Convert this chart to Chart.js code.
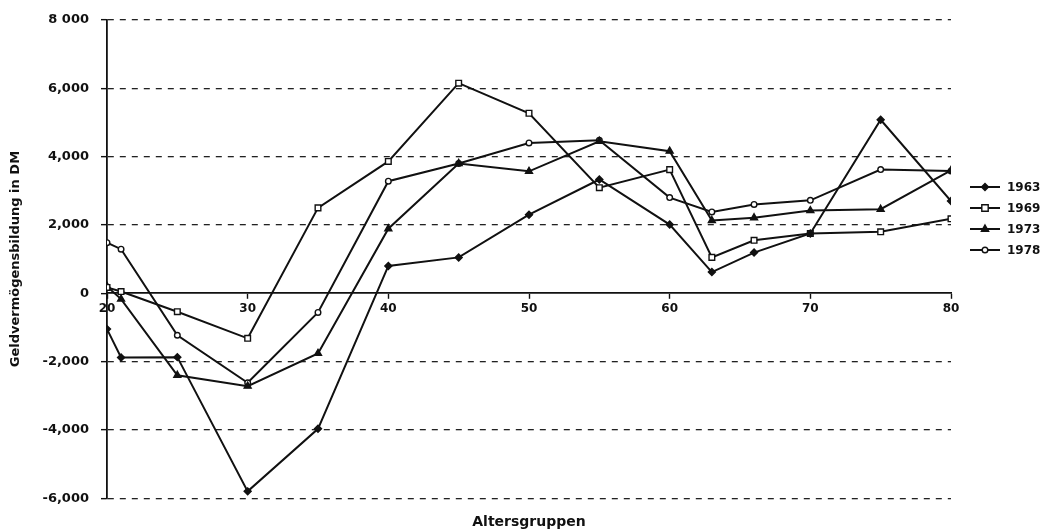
<!DOCTYPE html>
<html><head><meta charset="utf-8">
<script src="https://cdn.jsdelivr.net/npm/chart.js@4.4.1/dist/chart.umd.min.js"></script>
<style>html,body{margin:0;padding:0;background:#fff}</style>
</head><body>
<canvas id="c" width="1049" height="531"></canvas>
<script>
// ---- data ----
const ages = [20, 21, 25, 30, 35, 40, 45, 50, 55, 60, 63, 66, 70, 75, 80];
const seriesNames = ['1963', '1969', '1973', '1978'];
const values1963 = [-1050, -1880, -1870, -5800, -3970, 800, 1050, 2300, 3330, 2010, 620, 1190, 1750, 5080, 2700];
const values1969 = [170, 50, -540, -1320, 2500, 3860, 6150, 5270, 3090, 3620, 1050, 1550, 1750, 1800, 2180];
const values1973 = [200, -170, -2400, -2720, -1760, 1890, 3800, 3570, 4450, 4160, 2130, 2210, 2420, 2460, 3600];
const values1978 = [1480, 1290, -1230, -2620, -560, 3280, 3800, 4400, 4480, 2800, 2380, 2600, 2720, 3620, 3580];
const yTickValues = [-6000, -4000, -2000, 0, 2000, 4000, 6000, 8000];
const yTickLabels = ['-6,000', '-4,000', '-2,000', '0', '2,000', '4,000', '6,000', '8 000'];
const xTickValues = [20, 30, 40, 50, 60, 70, 80];
const yTitle = 'Geldvermögensbildung in DM';
const xTitle = 'Altersgruppen';

const allValues = [values1963, values1969, values1973, values1978];
const markerStyles = [
  {style: 'rectRot', radius: 3.5, fill: '#111'},
  {style: 'rect', radius: 4, fill: '#fff'},
  {style: 'triangle', radius: 4, fill: '#111'},
  {style: 'circle', radius: 2.8, fill: '#fff'}
];

const datasets = seriesNames.map((name, i) => ({
  label: name,
  data: ages.map((a, j) => ({x: a, y: allValues[i][j]})),
  borderColor: '#111',
  borderWidth: 2,
  pointStyle: markerStyles[i].style,
  pointRadius: markerStyles[i].radius,
  pointBackgroundColor: markerStyles[i].fill,
  pointBorderColor: '#111',
  pointBorderWidth: 1.4,
  tension: 0,
  fill: false
}));

function drawMarker(ctx, m, x, y) {
  ctx.save();
  ctx.fillStyle = m.fill; ctx.strokeStyle = '#111'; ctx.lineWidth = 1.4;
  const r = m.radius;
  ctx.beginPath();
  if (m.style === 'rect') { ctx.rect(x - r * 0.8, y - r * 0.8, r * 1.6, r * 1.6); }
  else if (m.style === 'rectRot') { ctx.moveTo(x, y - r); ctx.lineTo(x + r, y); ctx.lineTo(x, y + r); ctx.lineTo(x - r, y); ctx.closePath(); }
  else if (m.style === 'triangle') { ctx.moveTo(x, y - r); ctx.lineTo(x + r * 0.9, y + r * 0.6); ctx.lineTo(x - r * 0.9, y + r * 0.6); ctx.closePath(); }
  else { ctx.arc(x, y, r, 0, Math.PI * 2); }
  ctx.fill(); ctx.stroke();
  ctx.restore();
}

const legendPlugin = {
  id: 'lineLegend',
  afterDraw(chart) {
    const ctx = chart.ctx;
    const x0 = chart.chartArea.right + 19, rowH = 21, y0 = 187;
    ctx.save();
    chart.data.datasets.forEach((ds, i) => {
      const y = y0 + i * rowH;
      ctx.strokeStyle = '#111'; ctx.lineWidth = 2;
      ctx.beginPath(); ctx.moveTo(x0, y); ctx.lineTo(x0 + 30, y); ctx.stroke();
      drawMarker(ctx, markerStyles[i], x0 + 15, y);
      ctx.fillStyle = '#111';
      ctx.font = 'bold 12px "DejaVu Sans"';
      ctx.textBaseline = 'middle'; ctx.textAlign = 'left';
      ctx.fillText(ds.label, x0 + 37, y + 1);
    });
    ctx.restore();
  }
};

new Chart(document.getElementById('c'), {
  type: 'line',
  data: {datasets},
  options: {
    responsive: false,
    animation: false,
    layout: {padding: {left: 0, right: 98, top: 20, bottom: 0}},
    plugins: {
      legend: {display: false},
      tooltip: {enabled: false},
      title: {
        display: true, text: xTitle, position: 'bottom', fullSize: false,
        color: '#111', font: {family: 'DejaVu Sans', size: 14, weight: 'bold'},
        padding: {top: 16, bottom: 0}
      }
    },
    scales: {
      x: {
        type: 'linear', position: {y: 0}, min: 20, max: 80,
        afterBuildTicks(scale) { scale.ticks = xTickValues.map(v => ({value: v})); },
        ticks: {color: '#111', font: {family: 'DejaVu Sans', size: 12, weight: 'bold'}, padding: 3, maxRotation: 0},
        grid: {drawOnChartArea: false, drawTicks: true, tickLength: 5, tickColor: '#111', tickWidth: 1.4},
        border: {display: true, color: '#111', width: 1.8}
      },
      y: {
        type: 'linear', position: 'left', min: -6000, max: 8000,
        afterBuildTicks(scale) { scale.ticks = yTickValues.map(v => ({value: v})); },
        afterFit(scale) { scale.width = 107; },
        ticks: {
          color: '#111', font: {family: 'DejaVu Sans', size: 13, weight: 'bold'}, padding: 12,
          callback: (v) => { const k = yTickValues.indexOf(v); return k >= 0 ? yTickLabels[k] : ''; }
        },
        grid: {
          color: (c) => (c.tick && c.tick.value === 0) ? 'rgba(0,0,0,0)' : '#222',
          lineWidth: 1.3, drawTicks: true, tickLength: 6, tickColor: '#111', tickWidth: 1.4
        },
        border: {display: true, color: '#111', width: 1.8, dash: [6, 6]},
        title: {
          display: true, text: yTitle, color: '#111',
          font: {family: 'DejaVu Sans', size: 13, weight: 'bold'}, padding: {top: 8, bottom: 0}
        }
      }
    }
  },
  plugins: [legendPlugin]
});
</script>
</body></html>
